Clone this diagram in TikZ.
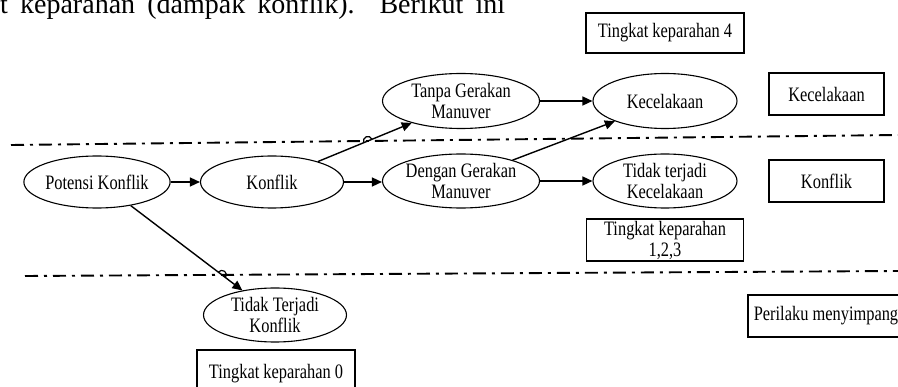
\documentclass[tikz,border=0pt]{standalone}
\usepackage{fontspec}
\setmainfont{Liberation Serif}
\newfontfamily\dgfont[FakeStretch=0.8]{Liberation Serif}
\usetikzlibrary{shapes.geometric,arrows.meta,intersections,calc}

\begin{document}
\begin{tikzpicture}[x=1pt,y=1pt,
  dgtext/.style={font=\dgfont\fontsize{20.5}{21}\selectfont},
  ell/.style={ellipse, draw, line width=1.1pt, inner sep=0pt, align=center, dgtext},
  lbox/.style={rectangle, draw, line width=1.1pt, inner sep=0pt, align=center, dgtext},
  conn/.style={line width=1.4pt, -{Triangle[length=10pt,width=9pt]}},
  divider/.style={line width=1.9pt, dash pattern=on 13pt off 6pt on 3pt off 6pt},
  hop/.style={line width=1.2pt}
]
\useasboundingbox (0,0) rectangle (898,-387);

% running text of the page above the figure
\node[anchor=base west, inner sep=0pt, font=\fontsize{28}{32}\selectfont] (bodytext) at (0,-14)
  {\makebox[505pt][s]{t keparahan (dampak konflik). Berikut ini}};

% severity dividers
\draw[divider, name path=div1] (11,-145) coordinate (d1a) -- (898,-135) coordinate (d1b);
\draw[divider, name path=div2] (25,-276) coordinate (d2a) -- (898,-271) coordinate (d2b);

% event nodes
\node[ell, minimum width=143pt, minimum height=52pt] (pot) at (97,-182) {Potensi Konflik};
\node[ell, minimum width=143pt, minimum height=52pt] (konf) at (272,-182) {Konflik};
\node[ell, minimum width=157pt, minimum height=54pt] (dengan) at (461,-181) {Dengan Gerakan\\Manuver};
\node[ell, minimum width=157pt, minimum height=55pt] (tanpa) at (461,-101) {Tanpa Gerakan\\Manuver};
\node[ell, minimum width=144pt, minimum height=55pt] (kec) at (665,-101) {Kecelakaan};
\node[ell, minimum width=144pt, minimum height=54pt] (tkec) at (665,-181) {Tidak terjadi\\Kecelakaan};
\node[ell, minimum width=143pt, minimum height=54pt] (tkonf) at (275,-315) {Tidak Terjadi\\Konflik};

% labels for severity levels and categories
\node[lbox, minimum width=158pt, minimum height=40pt] (sev4) at (665,-33) {Tingkat keparahan 4};
\node[lbox, minimum width=157pt, minimum height=42pt] (sev123) at (665,-240) {Tingkat keparahan\\1,2,3};
\node[lbox, minimum width=158pt, minimum height=48pt] (sev0) at (276,-374) {Tingkat keparahan 0};
\node[lbox, minimum width=115pt, minimum height=42pt] (catkec) at (826.5,-94) {Kecelakaan};
\node[lbox, minimum width=115pt, minimum height=42pt] (catkonf) at (826.5,-181) {Konflik};
\node[lbox, minimum width=156pt, minimum height=42pt] (catper) at (826,-316) {Perilaku menyimpang};

% connectors
\draw[conn] (pot.east) -- (konf.west);
\draw[conn] (konf.east) -- (konf.east -| dengan.west);
\draw[conn] (tanpa.east) -- (kec.west);
\draw[conn] (dengan.east) -- (dengan.east -| tkec.west);
\draw[conn, name path=c1] (konf.24) -- (tanpa.204);
\draw[conn] (dengan.22) -- (kec.202);
\draw[conn, name path=c2] (pot.-35) -- (tkonf.143);

% line hops where connectors cross the dividers
\path[name intersections={of=c1 and div1, by=h1}];
\path[name intersections={of=c2 and div2, by=h2}];
\draw[hop, shift={(h1)}, rotate=22.8] (-4.5,0) arc[start angle=180, end angle=0, radius=4.5];
\draw[hop, shift={(h2)}, rotate=-37.2] (-4.5,0) arc[start angle=180, end angle=0, radius=4.5];
\end{tikzpicture}
\end{document}
